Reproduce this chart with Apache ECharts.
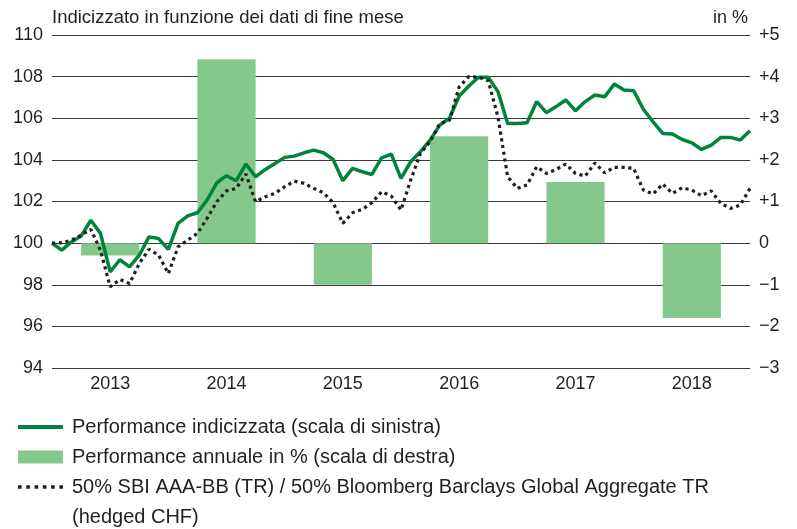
<!DOCTYPE html>
<html>
<head>
<meta charset="utf-8">
<script src="https://cdn.jsdelivr.net/npm/echarts@6/dist/echarts.min.js"></script>
<style>
  html, body { margin: 0; padding: 0; background: #fff; }
  #chart { width: 797px; height: 529px; }
</style>
</head>
<body>
<div id="chart"></div>
<script>
const years = ['2013', '2014', '2015', '2016', '2017', '2018']
const annualPerf = [-0.3, 4.42, -1.0, 2.57, 1.47, -1.8]

// month-end values, Dec 2012 .. Dec 2018
const indexed = [
  100.0, 99.66, 100.06, 100.34, 101.1, 100.47, 98.62, 99.2, 98.86, 99.42, 100.3, 100.22,
  99.7, 100.95, 101.31, 101.46, 102.07, 102.9, 103.24, 103.0, 103.8, 103.19, 103.54, 103.83,
  104.12, 104.18, 104.34, 104.47, 104.34, 104.02, 103.0, 103.59, 103.43, 103.3, 104.1, 104.28,
  103.11, 103.91, 104.39, 104.95, 105.67, 106.0, 107.07, 107.55, 107.97, 107.97, 107.28, 105.75,
  105.75, 105.78, 106.8, 106.27, 106.56, 106.88, 106.36, 106.8, 107.12, 107.03, 107.64, 107.36,
  107.32, 106.43, 105.83, 105.27, 105.24, 104.98, 104.82, 104.5, 104.71, 105.08, 105.08, 104.95,
  105.4
]
const benchmark = [
  100.0, 100.02, 100.14, 100.38, 100.66, 99.66, 97.9, 98.25, 98.06, 99.02, 99.7, 99.42,
  98.54, 99.82, 100.14, 100.47, 101.19, 101.99, 102.51, 102.63, 103.32, 101.99, 102.23, 102.39,
  102.71, 102.98, 102.87, 102.63, 102.42, 101.94, 100.95, 101.46, 101.62, 101.94, 102.47, 102.26,
  101.59, 103.03, 104.31, 104.87, 105.75, 105.9, 107.51, 108.0, 107.97, 107.8, 106.07, 103.19,
  102.63, 102.79, 103.67, 103.35, 103.54, 103.8, 103.35, 103.22, 103.85, 103.38, 103.64, 103.64,
  103.59, 102.55, 102.36, 102.84, 102.39, 102.66, 102.55, 102.28, 102.51, 101.9, 101.67, 101.83,
  102.63
]

const nameLine = 'Performance indicizzata (scala di sinistra)'
const nameBar = 'Performance annuale in % (scala di destra)'
const nameBench = '50% SBI AAA-BB (TR) / 50% Bloomberg Barclays Global Aggregate TR (hedged CHF)'

const font = '"Liberation Sans", Arial, sans-serif'
const green = '#00843d'
const barGreen = '#84c98b'
const ink = '#231f20'

const chart = echarts.init(document.getElementById('chart'))
chart.setOption({
  animation: false,
  backgroundColor: '#fff',
  textStyle: { fontFamily: font },
  grid: { left: 52, right: 47, top: 35, bottom: 161 },
  legend: {
    orient: 'vertical',
    left: 13,
    top: 412,
    itemWidth: 45,
    itemHeight: 13,
    itemGap: 10,
    selectedMode: false,
    textStyle: { fontFamily: font, fontSize: 20, color: ink, padding: [0, 0, 0, 4] },
    formatter: (n) => n.replace(' (hedged CHF)', ''),
    data: [
      { name: nameLine, icon: 'path://M0,0H45V4H0Z', itemStyle: { color: green } },
      { name: nameBar, icon: 'rect', itemStyle: { color: barGreen } },
      { name: nameBench, icon: 'path://M0,0H3.5V3.5H0ZM8,0H11.5V3.5H8ZM16,0H19.5V3.5H16ZM24,0H27.5V3.5H24ZM32,0H35.5V3.5H32ZM40,0H43.5V3.5H40Z', itemStyle: { color: ink } },
    ],
  },
  graphic: [
    { type: 'text', left: 72, top: 507, style: { text: '(hedged CHF)', font: '20px ' + font, fill: ink } },
  ],
  xAxis: [
    { type: 'value', min: 0, max: 72, show: false },
    {
      type: 'category',
      data: years,
      position: 'bottom',
      boundaryGap: true,
      axisLine: { show: false },
      axisTick: { show: false },
      axisLabel: { fontSize: 18, color: ink, margin: 7 },
    },
  ],
  yAxis: [
    {
      type: 'value',
      min: 94,
      max: 110,
      interval: 2,
      name: 'Indicizzato in funzione dei dati di fine mese',
      nameLocation: 'end',
      nameGap: 8,
      nameTextStyle: { align: 'left', fontSize: 18.5, color: ink },
      axisLine: { show: false },
      axisTick: { show: false },
      axisLabel: { fontSize: 18, color: ink, margin: 9 },
      splitLine: { lineStyle: { color: '#3a3a3a', width: 1 } },
    },
    {
      type: 'value',
      min: -3,
      max: 5,
      interval: 1,
      position: 'right',
      name: 'in %',
      nameLocation: 'end',
      nameGap: 8,
      nameTextStyle: { align: 'right', fontSize: 18, color: ink, padding: [0, 2, 0, 0] },
      axisLine: { show: false },
      axisTick: { show: false },
      axisLabel: {
        fontSize: 18,
        color: ink,
        margin: 9,
        formatter: (v) => (v > 0 ? '+' + v : v < 0 ? '\u2212' + Math.abs(v) : '0'),
      },
      splitLine: { show: false },
    },
  ],
  series: [
    {
      name: nameBar,
      type: 'bar',
      xAxisIndex: 1,
      yAxisIndex: 1,
      barWidth: '50%',
      itemStyle: { color: barGreen },
      data: annualPerf,
      z: 1,
    },
    {
      name: nameLine,
      type: 'line',
      xAxisIndex: 0,
      yAxisIndex: 0,
      symbol: 'none',
      lineStyle: { color: green, width: 3.5 },
      itemStyle: { color: green },
      data: indexed.map((v, i) => [i, v]),
      z: 3,
    },
    {
      name: nameBench,
      type: 'line',
      xAxisIndex: 0,
      yAxisIndex: 0,
      symbol: 'none',
      lineStyle: { color: ink, width: 3.2, type: [3.2, 3.6] },
      itemStyle: { color: ink },
      data: benchmark.map((v, i) => [i, v]),
      z: 4,
    },
  ],
})
</script>
</body>
</html>
